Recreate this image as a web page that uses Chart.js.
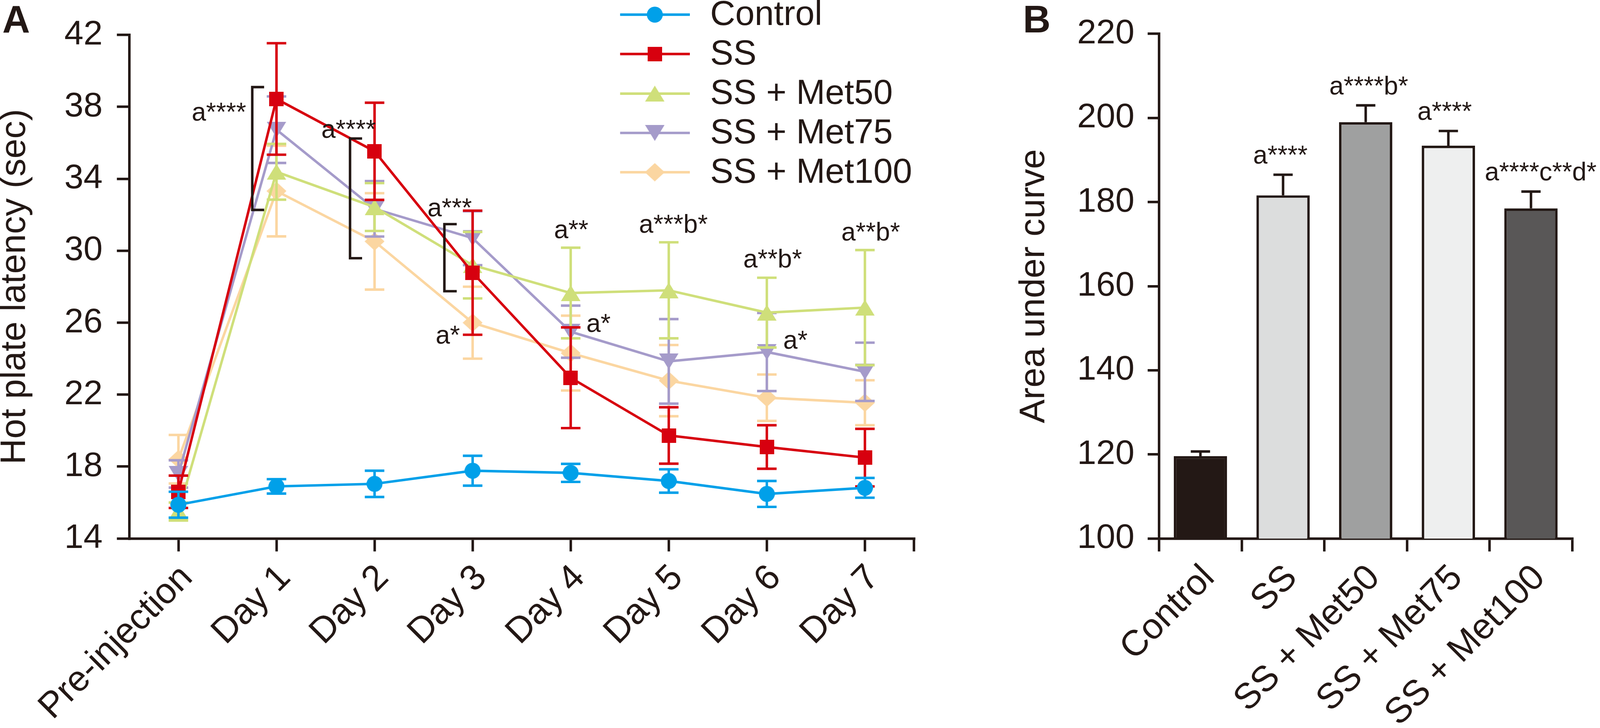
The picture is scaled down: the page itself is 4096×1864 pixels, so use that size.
<!DOCTYPE html>
<html>
<head>
<meta charset="utf-8">
<script src="https://cdn.jsdelivr.net/npm/chart.js@4.4.1/dist/chart.umd.min.js"></script>
<style>
  html, body { margin: 0; padding: 0; background: #fff; }
  body { width: 4096px; height: 1864px; position: relative; overflow: hidden; }
  canvas { position: absolute; top: 0; }
  #chartA { left: 0; }
  #chartB { left: 2600px; }
</style>
</head>
<body>
<canvas id="chartA" width="2600" height="1864"></canvas>
<canvas id="chartB" width="1496" height="1864"></canvas>
<script>
// Panel A - hot plate latency over time
const days = ['Pre-injection', 'Day 1', 'Day 2', 'Day 3', 'Day 4', 'Day 5', 'Day 6', 'Day 7'];
const groups = ['Control', 'SS', 'SS + Met50', 'SS + Met75', 'SS + Met100'];

const controlMean = [15.88, 16.9, 17.04, 17.77, 17.65, 17.2, 16.48, 16.82];
const controlSem  = [0.72, 0.4, 0.73, 0.83, 0.5, 0.65, 0.72, 0.55];
const ssMean      = [16.6, 38.44, 35.53, 28.78, 22.94, 19.73, 19.09, 18.5];
const ssSem       = [0.9, 3.1, 2.7, 3.45, 2.8, 1.57, 1.21, 1.6];
const met50Mean   = [15.5, 34.39, 32.43, 29.2, 27.65, 27.8, 26.56, 26.84];
const met50Sem    = [0.5, 1.55, 1.33, 1.85, 2.52, 2.67, 1.94, 3.2];
const met75Mean   = [17.59, 36.73, 32.33, 30.7, 25.5, 23.85, 24.37, 23.27];
const met75Sem    = [0.76, 1.85, 1.54, 1.5, 1.45, 2.35, 2.17, 1.62];
const met100Mean  = [18.41, 33.32, 30.52, 26.0, 24.31, 22.78, 21.83, 21.55];
const met100Sem   = [1.35, 2.52, 2.68, 2.0, 2.08, 1.98, 1.29, 1.25];
const latencyTicks = [14, 18, 22, 26, 30, 34, 38, 42];

// Panel B - area under curve
const aucMean = [119.6, 181.6, 199.0, 193.4, 178.5];
const aucSem  = [1.1, 4.9, 4.0, 3.5, 4.0];
const aucTicks = [100, 120, 140, 160, 180, 200, 220];

const FONT = '"Liberation Sans", Arial, Helvetica, sans-serif';
const INK = '#231815';
const BLUE = '#00a0e9', RED = '#d7000f', GREEN = '#cfdf7a', PURPLE = '#a59bca', PEACH = '#fbd6a1';
const barFills = ['#231815', '#dcdddd', '#9fa0a0', '#eeefef', '#595757'];
const LW = 6.4;

// marker images (centred on their bounding box like the original)
function marker(kind, color, w, h) {
  const c = document.createElement('canvas');
  c.width = Math.ceil(w); c.height = Math.ceil(h);
  const g = c.getContext('2d');
  g.fillStyle = color;
  g.beginPath();
  if (kind === 'circle') g.arc(w / 2, h / 2, w / 2, 0, Math.PI * 2);
  else if (kind === 'square') g.rect(0, 0, w, h);
  else if (kind === 'up') { g.moveTo(w / 2, 0); g.lineTo(w, h); g.lineTo(0, h); }
  else if (kind === 'down') { g.moveTo(0, 0); g.lineTo(w, 0); g.lineTo(w / 2, h); }
  else { g.moveTo(w / 2, 0); g.lineTo(w, h / 2); g.lineTo(w / 2, h); g.lineTo(0, h / 2); }
  g.closePath();
  g.fill();
  return c;
}
const mkCircle = marker('circle', BLUE, 41, 41);
const mkSquare = marker('square', RED, 37, 37);
const mkUp = marker('up', GREEN, 50, 41);
const mkDown = marker('down', PURPLE, 50, 41);
const mkDiamond = marker('diamond', PEACH, 51, 47);

function series(label, data, errors, color, img) {
  return { label, data, errors, borderColor: color, backgroundColor: color,
    borderWidth: LW, pointStyle: img, pointRadius: 20, pointHoverRadius: 20,
    tension: 0, clip: false };
}

const errorBarsA = {
  id: 'errorBarsA',
  beforeDatasetDraw(chart, args) {
    const ds = chart.data.datasets[args.index];
    const y = chart.scales.y, ctx = chart.ctx;
    ctx.save();
    ctx.strokeStyle = ds.borderColor;
    ctx.lineWidth = LW;
    args.meta.data.forEach((pt, i) => {
      const hi = y.getPixelForValue(ds.data[i] + ds.errors[i]);
      const lo = y.getPixelForValue(ds.data[i] - ds.errors[i]);
      ctx.beginPath();
      ctx.moveTo(pt.x, hi); ctx.lineTo(pt.x, lo);
      ctx.moveTo(pt.x - 25, hi); ctx.lineTo(pt.x + 25, hi);
      ctx.moveTo(pt.x - 25, lo); ctx.lineTo(pt.x + 25, lo);
      ctx.stroke();
    });
    ctx.restore();
  }
};

// significance labels: category position, value of baseline
const notesA = [
  { text: 'a****', at: 0.691, v: 37.24, align: 'right' },
  { text: 'a****', at: 2.012, v: 36.28, align: 'right' },
  { text: 'a***', at: 2.992, v: 31.92, align: 'right' },
  { text: 'a*', at: 2.871, v: 24.84, align: 'right' },
  { text: 'a**', at: 4.005, v: 30.69, align: 'center' },
  { text: 'a***b*', at: 5.047, v: 31.0, align: 'center' },
  { text: 'a*', at: 4.159, v: 25.48, align: 'left' },
  { text: 'a**b*', at: 6.059, v: 29.07, align: 'center' },
  { text: 'a*', at: 6.167, v: 24.55, align: 'left' },
  { text: 'a**b*', at: 7.059, v: 30.57, align: 'center' }
];
const bracketsA = [
  { at: 0.753, arm: 0.874, top: 39.1, bottom: 32.27 },
  { at: 1.750, arm: 1.873, top: 36.24, bottom: 29.585 },
  { at: 2.712, arm: 2.838, top: 31.48, bottom: 27.75 }
];

const decorA = {
  id: 'decorA',
  afterDraw(chart) {
    const ctx = chart.ctx, x = chart.scales.x, y = chart.scales.y, area = chart.chartArea;
    ctx.save();
    ctx.strokeStyle = INK;
    ctx.fillStyle = INK;
    ctx.lineWidth = LW;
    // closing tick at the end of the x axis
    ctx.beginPath();
    ctx.moveTo(area.right, area.bottom);
    ctx.lineTo(area.right, area.bottom + 33);
    ctx.stroke();
    // brackets
    bracketsA.forEach(b => {
      const bx = x.getPixelForValue(b.at), ax = x.getPixelForValue(b.arm);
      const t = y.getPixelForValue(b.top), bo = y.getPixelForValue(b.bottom);
      ctx.beginPath();
      ctx.moveTo(ax, t); ctx.lineTo(bx, t); ctx.lineTo(bx, bo); ctx.lineTo(ax, bo);
      ctx.stroke();
    });
    // annotations
    ctx.font = '66px ' + FONT;
    ctx.textBaseline = 'alphabetic';
    notesA.forEach(n => {
      ctx.textAlign = n.align;
      ctx.fillText(n.text, x.getPixelForValue(n.at), y.getPixelForValue(n.v));
    });
    // legend
    const rowY = [37.5, 138.2, 239.7, 340.4, 441.0];
    ctx.font = '89px ' + FONT;
    ctx.textAlign = 'left';
    ctx.textBaseline = 'middle';
    chart.data.datasets.forEach((ds, i) => {
      const ry = rowY[i];
      ctx.strokeStyle = ds.borderColor;
      ctx.beginPath();
      ctx.moveTo(1587.5, ry); ctx.lineTo(1766, ry);
      ctx.stroke();
      const img = ds.pointStyle;
      ctx.drawImage(img, 1676.3 - img.width / 2, ry - img.height / 2);
      ctx.fillStyle = INK;
      ctx.fillText(ds.label, 1818, ry + 2);
    });
    // panel letter
    ctx.font = 'bold 98px ' + FONT;
    ctx.textBaseline = 'alphabetic';
    ctx.fillText('A', 6, 83);
    ctx.restore();
  }
};

const axisBase = {
  grid: { display: true, drawOnChartArea: false, drawTicks: true, color: INK, tickColor: INK, lineWidth: LW, tickWidth: LW },
  border: { display: true, width: LW, color: INK }
};

new Chart(document.getElementById('chartA'), {
  type: 'line',
  data: {
    labels: days,
    datasets: [
      series(groups[0], controlMean, controlSem, BLUE, mkCircle),
      series(groups[1], ssMean, ssSem, RED, mkSquare),
      series(groups[2], met50Mean, met50Sem, GREEN, mkUp),
      series(groups[3], met75Mean, met75Sem, PURPLE, mkDown),
      series(groups[4], met100Mean, met100Sem, PEACH, mkDiamond)
    ]
  },
  options: {
    responsive: false, animation: false, devicePixelRatio: 1,
    layout: { padding: { left: 0, top: 83.1, right: 260.3, bottom: 0 } },
    plugins: { legend: { display: false }, tooltip: { enabled: false } },
    scales: {
      x: {
        type: 'category', offset: true,
        grid: Object.assign({}, axisBase.grid, { offset: false, tickLength: 33 }),
        border: axisBase.border,
        ticks: { color: INK, font: { family: FONT, size: 92 }, minRotation: 45, maxRotation: 45,
          autoSkip: false, padding: 14, labelOffset: 22 },
        afterFit: s => { s.height = 485.1; }
      },
      y: {
        min: 14, max: 42,
        afterBuildTicks: s => { s.ticks = latencyTicks.map(v => ({ value: v })); },
        grid: Object.assign({}, axisBase.grid, { tickLength: 32 }),
        border: axisBase.border,
        ticks: { color: INK, font: { family: FONT, size: 88 }, padding: 36.6 },
        title: { display: true, text: 'Hot plate latency (sec)', color: INK,
          font: { family: FONT, size: 91.5, lineHeight: 0.84 }, padding: 0 },
        afterFit: s => { s.width = 331.2; }
      }
    }
  },
  plugins: [errorBarsA, decorA]
});

const notesB = [
  { text: 'a****', at: 0.9675, v: 189.15 },
  { text: 'a****b*', at: 2.037, v: 205.53 },
  { text: 'a****', at: 2.955, v: 199.54 },
  { text: 'a****c**d*', at: 4.117, v: 185.14 }
];

const decorB = {
  id: 'decorB',
  afterDatasetsDraw(chart) {
    const ctx = chart.ctx, y = chart.scales.y;
    const ds = chart.data.datasets[0];
    ctx.save();
    ctx.strokeStyle = INK;
    ctx.lineWidth = LW;
    chart.getDatasetMeta(0).data.forEach((bar, i) => {
      const top = y.getPixelForValue(ds.data[i] + ds.errors[i]);
      const base = y.getPixelForValue(ds.data[i]);
      ctx.beginPath();
      ctx.moveTo(bar.x, base); ctx.lineTo(bar.x, top);
      ctx.moveTo(bar.x - 24.7, top); ctx.lineTo(bar.x + 24.7, top);
      ctx.stroke();
    });
    ctx.restore();
  },
  afterDraw(chart) {
    const ctx = chart.ctx, x = chart.scales.x, y = chart.scales.y;
    ctx.save();
    ctx.fillStyle = INK;
    ctx.font = '66px ' + FONT;
    ctx.textAlign = 'center';
    ctx.textBaseline = 'alphabetic';
    notesB.forEach(n => ctx.fillText(n.text, x.getPixelForValue(n.at), y.getPixelForValue(n.v)));
    ctx.font = 'bold 98px ' + FONT;
    ctx.textAlign = 'left';
    ctx.fillText('B', 18.7, 83);
    ctx.restore();
  }
};

new Chart(document.getElementById('chartB'), {
  type: 'bar',
  data: {
    labels: groups,
    datasets: [{
      data: aucMean, errors: aucSem,
      backgroundColor: barFills, borderColor: INK, borderWidth: LW, borderSkipped: false,
      barPercentage: 0.645, categoryPercentage: 1
    }]
  },
  options: {
    responsive: false, animation: false, devicePixelRatio: 1,
    layout: { padding: { left: 0, top: 82.4, right: 70.9, bottom: 0 } },
    plugins: { legend: { display: false }, tooltip: { enabled: false } },
    scales: {
      x: {
        grid: Object.assign({}, axisBase.grid, { offset: true, tickLength: 33 }),
        border: axisBase.border,
        ticks: { color: INK, font: { family: FONT, size: 92 }, minRotation: 45, maxRotation: 45,
          autoSkip: false, padding: 14, labelOffset: 22 },
        afterFit: s => { s.height = 485; }
      },
      y: {
        min: 100, max: 220,
        afterBuildTicks: s => { s.ticks = aucTicks.map(v => ({ value: v })); },
        grid: Object.assign({}, axisBase.grid, { tickLength: 29.3 }),
        border: axisBase.border,
        ticks: { color: INK, font: { family: FONT, size: 88 }, padding: 33.8 },
        title: { display: true, text: 'Area under curve', color: INK,
          font: { family: FONT, size: 91.5, lineHeight: 0.84 }, padding: { top: 9, bottom: 0 } },
        afterFit: s => { s.width = 367.3; }
      }
    }
  },
  plugins: [decorB]
});
</script>
</body>
</html>
